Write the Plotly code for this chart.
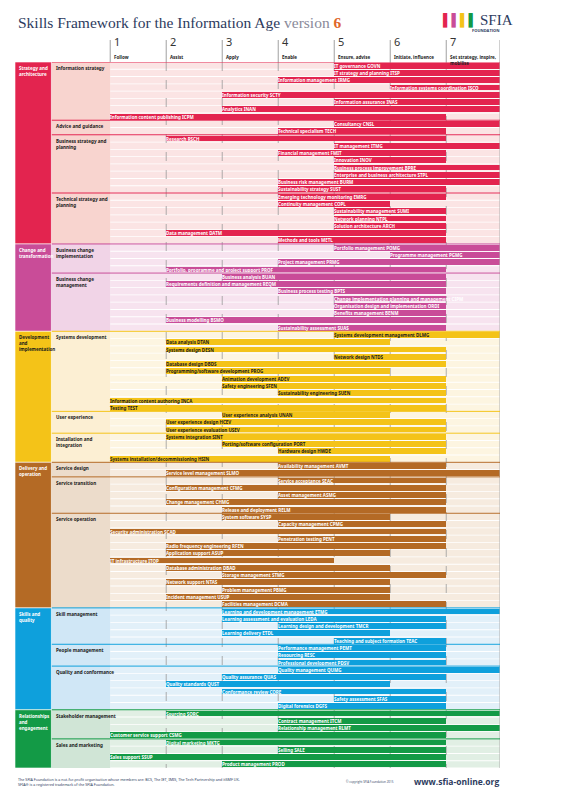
import plotly.graph_objects as go

# ---- data ----
levels = ["1", "2", "3", "4", "5", "6", "7"]
level_names = ["Follow", "Assist", "Apply", "Enable", "Ensure, advise",
               "Initiate, influence", "Set strategy, inspire,<br>mobilise"]

categories = ["Strategy and<br>architecture", "Change and<br>transformation",
              "Development<br>and<br>implementation", "Delivery and<br>operation",
              "Skills and<br>quality", "Relationships<br>and<br>engagement"]
cat_colors = ["#e3244f", "#c94c98", "#f4c318", "#b46a25", "#0ea0dc", "#139a46"]
cat_pale = ["#fbe4e4", "#f7e3ef", "#fdf5e1", "#f6ebdf", "#e2f0f9", "#e1efe4"]
cat_sub = ["#f8d4cf", "#f1d4e7", "#fcefd3", "#ecdccb", "#d0e7f6", "#d0e5d6"]
cat_text = ["white", "white", "#1a1a1a", "white", "white", "white"]

# subcategory: (category index, label, number of skills)
subcats = [
    (0, "Information strategy", 8), (0, "Advice and guidance", 2),
    (0, "Business strategy and<br>planning", 8), (0, "Technical strategy and<br>planning", 7),
    (1, "Business change<br>implementation", 4), (1, "Business change<br>management", 8),
    (2, "Systems development", 11), (2, "User experience", 3),
    (2, "Installation and<br>integration", 4),
    (3, "Service design", 2), (3, "Service transition", 5), (3, "Service operation", 13),
    (4, "Skill management", 5), (4, "People management", 3),
    (4, "Quality and conformance", 6),
    (5, "Stakeholder management", 4), (5, "Sales and marketing", 4),
]

skills = [
    "IT governance GOVN", "IT strategy and planning ITSP", "Information management IRMG",
    "Information systems coordination ISCO", "Information security SCTY",
    "Information assurance INAS", "Analytics INAN", "Information content publishing ICPM",
    "Consultancy CNSL", "Technical specialism TECH",
    "Research RSCH", "IT management ITMG", "Financial management FMIT", "Innovation INOV",
    "Business process improvement BPRE", "Enterprise and business architecture STPL",
    "Business risk management BURM", "Sustainability strategy SUST",
    "Emerging technology monitoring EMRG", "Continuity management COPL",
    "Sustainability management SUMI", "Network planning NTPL", "Solution architecture ARCH",
    "Data management DATM", "Methods and tools METL",
    "Portfolio management POMG", "Programme management PGMG", "Project management PRMG",
    "Portfolio, programme and project support PROF",
    "Business analysis BUAN", "Requirements definition and management REQM",
    "Business process testing BPTS", "Change implementation planning and management CIPM",
    "Organisation design and implementation ORDI", "Benefits management BENM",
    "Business modelling BSMO", "Sustainability assessment SUAS",
    "Systems development management DLMG", "Data analysis DTAN", "Systems design DESN",
    "Network design NTDS", "Database design DBDS", "Programming/software development PROG",
    "Animation development ADEV", "Safety engineering SFEN", "Sustainability engineering SUEN",
    "Information content authoring INCA", "Testing TEST",
    "User experience analysis UNAN", "User experience design HCEV",
    "User experience evaluation USEV",
    "Systems integration SINT", "Porting/software configuration PORT", "Hardware design HWDE",
    "Systems installation/decommissioning HSIN",
    "Availability management AVMT", "Service level management SLMO",
    "Service acceptance SEAC", "Configuration management CFMG", "Asset management ASMG",
    "Change management CHMG", "Release and deployment RELM",
    "System software SYSP", "Capacity management CPMG", "Security administration SCAD",
    "Penetration testing PENT", "Radio frequency engineering RFEN", "Application support ASUP",
    "IT infrastructure ITOP", "Database administration DBAD", "Storage management STMG",
    "Network support NTAS", "Problem management PBMG", "Incident management USUP",
    "Facilities management DCMA",
    "Learning and development management ETMG", "Learning assessment and evaluation LEDA",
    "Learning design and development TMCR", "Learning delivery ETDL",
    "Teaching and subject formation TEAC",
    "Performance management PEMT", "Resourcing RESC", "Professional development PDSV",
    "Quality management QUMG", "Quality assurance QUAS", "Quality standards QUST",
    "Conformance review CORE", "Safety assessment SFAS", "Digital forensics DGFS",
    "Sourcing SORC", "Contract management ITCM", "Relationship management RLMT",
    "Customer service support CSMG",
    "Digital marketing MKTG", "Selling SALE", "Sales support SSUP", "Product management PROD",
]
lo = [5, 5, 4, 6, 3, 5, 3, 1, 5, 4,
      2, 5, 4, 5, 5, 5, 4, 4, 4, 4, 5, 5, 5, 2, 4,
      5, 6, 4, 2, 3, 2, 4, 5, 5, 5, 2, 4,
      5, 2, 2, 5, 2, 2, 3, 3, 4, 1, 1, 3, 2, 2, 2, 3, 4, 1,
      4, 2, 4, 2, 4, 2, 3, 3, 4, 1, 4, 2, 2, 1, 2, 3, 2, 3, 2, 3,
      3, 3, 4, 3, 5, 4, 4, 4, 4, 3, 2, 3, 5, 4,
      2, 4, 4, 1, 2, 4, 1, 3]
hi = [7, 7, 7, 7, 7, 7, 7, 6, 7, 6,
      6, 7, 6, 6, 7, 7, 7, 6, 6, 5, 6, 6, 6, 6, 6,
      7, 7, 7, 6, 6, 6, 6, 6, 6, 6, 6, 6,
      7, 5, 6, 6, 6, 5, 6, 6, 6, 6, 6, 5, 6, 6, 6, 6, 6, 5,
      6, 7, 6, 6, 6, 6, 6, 5, 6, 6, 6, 6, 5, 4, 5, 6, 5, 5, 5, 6,
      7, 6, 6, 5, 6, 6, 6, 6, 7, 6, 5, 6, 6, 6,
      7, 6, 7, 6, 6, 6, 6, 6]

# ---- layout helpers ----
X_CAT, X_SUB, X_END = -1.70, -1.05, 6.96
W, H, L, T, B = 558, 789, 7, 54, 29
PW, PH = 485, 706


def py(p):
    # page pixel (reference) -> paper y
    return (T + PH - (p - 8)) / PH


def px(p):
    return (p - 8 - L) / PW


n = len(skills)
row_cat = []
for c, lab, k in subcats:
    row_cat += [c] * k

fig = go.Figure()
shapes, annos = [], []

# row backgrounds
for i in range(n):
    shapes.append(dict(type="rect", layer="below", x0=0, x1=X_END, y0=i - 0.44, y1=i + 0.44,
                       fillcolor=cat_pale[row_cat[i]], line_width=0))

# level grid lines
for b in range(1, 7):
    shapes.append(dict(type="line", layer="below", x0=b, x1=b, y0=-0.5, y1=n - 0.5,
                       line=dict(color="#9a9a9a", width=0.8, dash="dash")))
shapes.append(dict(type="line", x0=X_END, x1=X_END, y0=-0.5, y1=n - 0.5,
                   line=dict(color="#b0b0b0", width=1)))

# subcategory and category blocks
start = 0
cat_rows = {}
for c, lab, k in subcats:
    shapes.append(dict(type="rect", layer="below", x0=X_SUB, x1=0, y0=start - 0.5,
                       y1=start + k - 0.5, fillcolor=cat_sub[c], line_width=0))
    shapes.append(dict(type="line", x0=X_SUB, x1=X_END, y0=start - 0.5, y1=start - 0.5,
                       line=dict(color=cat_colors[c], width=1)))
    annos.append(dict(x=X_SUB + 0.04, y=start - 0.35, text="<b>" + lab + "</b>",
                      xanchor="left", yanchor="top", align="left", showarrow=False,
                      font=dict(size=4.6, color="#1a1a1a", family="Noto Sans")))
    cat_rows.setdefault(c, [start, start + k])[1] = start + k
    start += k
for c, (a, b) in cat_rows.items():
    shapes.append(dict(type="rect", x0=X_CAT, x1=X_SUB, y0=a - 0.5, y1=b - 0.5,
                       fillcolor=cat_colors[c], line=dict(color="white", width=0.6)))
    annos.append(dict(x=X_CAT + 0.04, y=a - 0.35, text="<b>" + categories[c] + "</b>",
                      xanchor="left", yanchor="top", align="left", showarrow=False,
                      font=dict(size=4.5, color=cat_text[c], family="Noto Sans")))

# skill bars
for c in range(len(categories)):
    idx = [i for i in range(n) if row_cat[i] == c]
    fig.add_trace(go.Bar(
        orientation="h",
        y=idx,
        base=[lo[i] - 1 for i in idx],
        x=[(X_END if hi[i] == 7 else hi[i]) - (lo[i] - 1) for i in idx],
        text=["<b>" + skills[i] + "</b>" for i in idx],
        textposition="inside", insidetextanchor="start", textangle=0,
        constraintext="none",
        textfont=dict(size=4.5, color=cat_text[c], family="Noto Sans"),
        marker=dict(color=cat_colors[c], line_width=0),
        width=0.8, hoverinfo="text", showlegend=False,
    ))

# level headers
for j in range(7):
    shapes.append(dict(type="line", xref="x", yref="paper", x0=j, x1=j, y0=1, y1=py(40),
                       line=dict(color="#a0a0a0", width=1)))
    annos.append(dict(x=j + 0.03, xref="x", y=py(51), yref="paper", text=levels[j],
                      xanchor="left", yanchor="bottom", showarrow=False,
                      font=dict(size=11, color="#333", family="Noto Sans")))
    annos.append(dict(x=j + 0.03, xref="x", y=py(52), yref="paper",
                      text="<b>" + level_names[j] + "</b>", align="left",
                      xanchor="left", yanchor="top", showarrow=False,
                      font=dict(size=4.5, color="#222", family="Noto Sans")))
shapes.append(dict(type="line", xref="x", yref="paper", x0=X_END, x1=X_END, y0=1, y1=py(40),
                   line=dict(color="#a0a0a0", width=1)))

# title, logo, footer
annos += [
    dict(x=px(16), y=py(23), xref="paper", yref="paper", xanchor="left", yanchor="middle",
         showarrow=False,
         text="<span style='color:#2d3b5e'>Skills Framework for the Information Age</span> "
              "<span style='color:#8a8a9a'>version</span> "
              "<b><span style='color:#e0662a'>6</span></b>",
         font=dict(size=15.5, family="Liberation Serif")),
    dict(x=px(479), y=py(20), xref="paper", yref="paper", xanchor="right", yanchor="middle",
         showarrow=False,
         text="<span style='color:#e3244f'>▌</span><span style='color:#c94c98'>▌</span>"
              "<span style='color:#f4c318'>▌</span><span style='color:#139a46'>▌</span>",
         font=dict(size=12)),
    dict(x=px(478), y=py(20), xref="paper", yref="paper", xanchor="left", yanchor="middle",
         showarrow=False, text="SFIA", font=dict(size=15, color="#2d3b5e", family="Liberation Serif")),
    dict(x=px(501), y=py(31), xref="paper", yref="paper", xanchor="right", yanchor="middle",
         showarrow=False, text="<b>FOUNDATION</b>", font=dict(size=4, color="#2d3b5e")),
    dict(x=px(16), y=py(782), xref="paper", yref="paper", xanchor="left", yanchor="middle",
         showarrow=False, align="left",
         text="The SFIA Foundation is a not-for-profit organisation whose members are: BCS, The IET, IMIS, "
              "The Tech Partnership and itSMF UK.<br>SFIA® is a registered trademark of the SFIA Foundation.",
         font=dict(size=3.7, color="#2d3b5e", family="Noto Sans")),
    dict(x=px(344), y=py(781), xref="paper", yref="paper", xanchor="left", yanchor="middle",
         showarrow=False, text="© copyright SFIA Foundation 2015",
         font=dict(size=3, color="#2d3b5e")),
    dict(x=px(501), y=py(781), xref="paper", yref="paper", xanchor="right", yanchor="middle",
         showarrow=False, text="<b>www.sfia-online.org</b>",
         font=dict(size=8.5, color="#2d3b5e", family="Open Sans")),
]

fig.update_layout(
    width=W, height=H, margin=dict(l=L, r=W - L - PW, t=T, b=H - T - PH),
    paper_bgcolor="white", plot_bgcolor="white",
    barmode="overlay", bargap=0,
    xaxis=dict(range=[X_CAT, X_END], visible=False, fixedrange=True),
    yaxis=dict(range=[n - 0.5, -0.5], visible=False, fixedrange=True),
    shapes=shapes, annotations=annos, showlegend=False,
)
fig.write_html("out.html")
